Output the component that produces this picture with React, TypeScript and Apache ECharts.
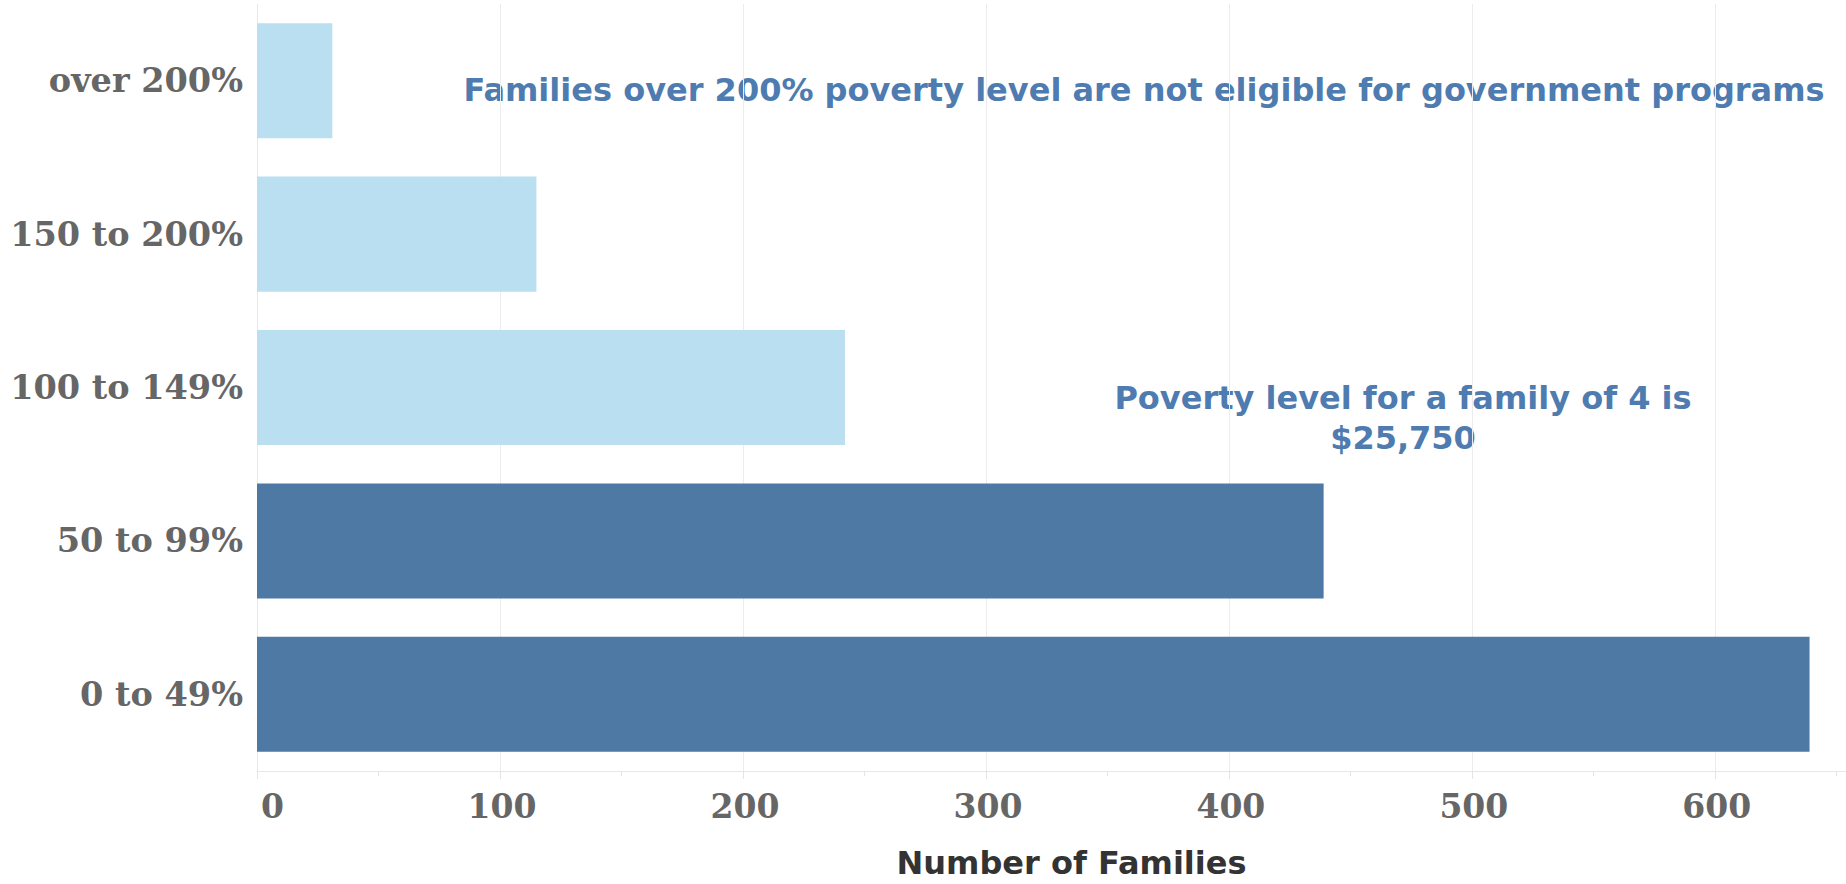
import React, { useEffect, useRef } from "react";
import * as echarts from "echarts";

const categories = ["0 to 49%", "50 to 99%", "100 to 149%", "150 to 200%", "over 200%"];
const families = [639, 439, 242, 115, 31];
const eligibleGroup = ["eligible", "eligible", "not eligible", "not eligible", "not eligible"];
const groupColors: Record<string, string> = { eligible: "#4e79a5", "not eligible": "#badff1" };
const axisTicks = [0, 100, 200, 300, 400, 500, 600];
const axisTitle = "Number of Families";
const note1 = "Families over 200% poverty level are not eligible for government programs";
const note2 = "Poverty level for a family of 4 is\n$25,750";

export default function App() {
  const ref = useRef<HTMLDivElement>(null);
  useEffect(() => {
    if (!ref.current) return;
    const chart = echarts.init(ref.current, undefined, { renderer: "svg" });
    const serif = "'DejaVu Serif', serif";
    const sans = "'DejaVu Sans', sans-serif";
    chart.setOption({
      animation: false,
      backgroundColor: "#ffffff",
      grid: { left: 257, right: 0, top: 4, bottom: 110, containLabel: false },
      xAxis: {
        type: "value",
        min: axisTicks[0],
        max: 654,
        interval: 100,
        name: axisTitle,
        nameLocation: "middle",
        nameGap: 76,
        nameTextStyle: {
          fontFamily: sans,
          fontWeight: "bold",
          fontSize: 32,
          color: "#333333",
          padding: [0, 0, 0, 40],
        },
        axisLine: { show: true, lineStyle: { color: "#e8e8e8", width: 1 } },
        axisTick: { show: true, length: 8, lineStyle: { color: "#e4e4e4" } },
        minorTick: { show: true, splitNumber: 2, length: 5, lineStyle: { color: "#e4e4e4" } },
        splitLine: { show: true, lineStyle: { color: "#ececec", width: 1 } },
        axisLabel: {
          fontFamily: serif,
          fontWeight: "bold",
          fontSize: 33,
          color: "#666666",
          margin: 19,
          showMaxLabel: false,
          alignMinLabel: "left",
          padding: [0, 0, 0, 4],
          formatter: (v: number) => (axisTicks.includes(v) ? String(v) : ""),
        },
      },
      yAxis: {
        type: "category",
        data: categories,
        axisLine: { show: true, lineStyle: { color: "#e8e8e8", width: 1 } },
        axisTick: { show: false },
        splitLine: { show: false },
        axisLabel: {
          fontFamily: serif,
          fontWeight: "bold",
          fontSize: 33.5,
          color: "#666666",
          margin: 14,
        },
      },
      series: [
        {
          type: "bar",
          data: families.map((v, i) => ({
            value: v,
            itemStyle: { color: groupColors[eligibleGroup[i]] },
          })),
          barCategoryGap: "25%",
          silent: true,
        },
      ],
      graphic: [
        {
          type: "text",
          x: 1144,
          y: 90,
          style: {
            text: note1,
            align: "center",
            verticalAlign: "middle",
            fontFamily: sans,
            fontWeight: "bold",
            fontSize: 32,
            fill: "#4e7bb0",
          },
        },
        {
          type: "text",
          x: 1403,
          y: 418,
          style: {
            text: note2,
            align: "center",
            verticalAlign: "middle",
            lineHeight: 40,
            fontFamily: sans,
            fontWeight: "bold",
            fontSize: 32,
            fill: "#4e7bb0",
          },
        },
      ],
    });
    return () => chart.dispose();
  }, []);
  return (
    <div
      ref={ref}
      style={{ position: "fixed", left: 0, top: 0, width: 1846, height: 884 }}
    />
  );
}
